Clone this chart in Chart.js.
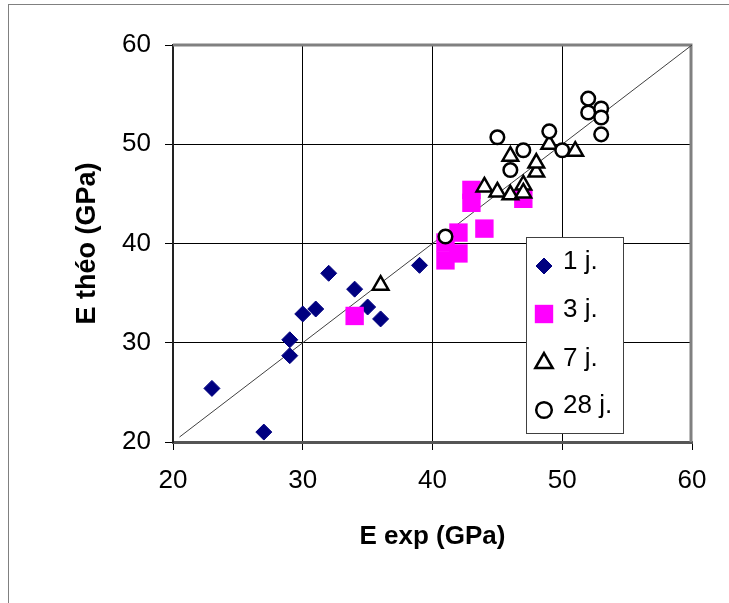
<!DOCTYPE html>
<html>
<head>
<meta charset="utf-8">
<script src="https://cdn.jsdelivr.net/npm/chart.js@4.4.0/dist/chart.umd.min.js"></script>
<style>
    html, body { margin: 0; padding: 0; background: #fff; }
    #wrap { width: 729px; height: 603px; }
</style>
</head>
<body>
<div id="wrap"><canvas id="modulusChart" width="729" height="603"></canvas></div>
<script>
/**
 * E exp vs E théo (GPa), by curing age
 */

// 1 day
const exp1j  = [23, 27, 29, 29, 30, 31, 32, 34, 35, 36, 39];
const theo1j = [25.4, 21.0, 28.7, 30.3, 32.9, 33.4, 37.0, 35.4, 33.6, 32.4, 37.8];

// 3 days
const exp3j  = [34, 41, 41, 42, 42, 43, 43, 44, 47];
const theo3j = [32.7, 38.3, 40.1, 39.0, 41.1, 44.1, 45.4, 41.5, 44.5];

// 7 days
const exp7j  = [36, 44, 45, 46, 47, 47, 48, 48, 46, 49, 51];
const theo7j = [35.8, 45.7, 45.2, 44.9, 45.9, 45.1, 47.2, 48.1, 48.8, 50.0, 49.3];

// 28 days
const exp28j  = [41, 45, 46, 47, 49, 50, 52, 52, 53, 53, 53];
const theo28j = [40.7, 50.7, 47.4, 49.4, 51.3, 49.4, 54.6, 53.2, 53.6, 52.7, 51.0];

// y = x reference line
const refLineX = [20.5, 60];
const refLineY = [20.5, 60];

const seriesLabels = ['1 j.', '3 j.', '7 j.', '28 j.'];
const axisTicks = [20, 30, 40, 50, 60];

const family = "'Liberation Sans', Arial, sans-serif";

function toPoints(xs, ys) {
    return xs.map((x, i) => ({ x: x, y: ys[i] }));
}

function fixedTicks(scale) {
    scale.ticks = axisTicks.map(v => ({ value: v }));
}

function gridColor(c) {
    // top / right edge is covered by the grey plot frame
    return c.tick && c.tick.value === 60 ? 'rgba(0,0,0,0)' : '#000';
}

// Outer chart frame + grey plot-area border (top and right)
const plotFrame = {
    id: 'plotFrame',
    beforeDraw(chart) {
        const c = chart.ctx;
        c.save();
        c.strokeStyle = '#808080';
        c.lineWidth = 1;
        c.strokeRect(8.5, 4.5, 800, 700);
        c.restore();
    },
    beforeDatasetsDraw(chart) {
        const { left, right, top, bottom } = chart.chartArea;
        const c = chart.ctx;
        c.save();
        c.strokeStyle = '#808080';
        c.lineWidth = 3;
        c.beginPath();
        c.moveTo(left, top);
        c.lineTo(right - 1, top);
        c.lineTo(right - 1, bottom);
        c.stroke();
        c.restore();
    }
};

// Boxed legend sitting inside the plot area
const boxLegend = {
    id: 'boxLegend',
    afterDraw(chart) {
        const c = chart.ctx;
        const rowY = [266, 314, 363, 410];
        c.save();
        c.fillStyle = '#fff';
        c.fillRect(526, 237, 98, 197);
        c.strokeStyle = '#404040';
        c.lineWidth = 1;
        c.strokeRect(526.5, 237.5, 97, 196);

        seriesLabels.forEach((label, i) => {
            const ds = chart.data.datasets[i];
            c.fillStyle = ds.backgroundColor;
            c.strokeStyle = ds.borderColor;
            c.lineWidth = ds.borderWidth;
            Chart.helpers.drawPoint(c, {
                pointStyle: ds.pointStyle,
                radius: ds.pointRadius + (i > 1 ? 1 : 0),
                borderWidth: ds.borderWidth,
                rotation: 0
            }, 544, rowY[i]);

            c.fillStyle = '#000';
            c.font = '26px ' + family;
            c.textAlign = 'left';
            c.textBaseline = 'middle';
            c.fillText(label, 563, rowY[i] - 4);
        });
        c.restore();
    }
};

const ctx = document.getElementById('modulusChart').getContext('2d');

new Chart(ctx, {
    type: 'scatter',
    data: {
        datasets: [
            {
                label: seriesLabels[0],
                data: toPoints(exp1j, theo1j),
                pointStyle: 'rectRot',
                pointRadius: 8,
                backgroundColor: '#000080',
                borderColor: '#000080',
                borderWidth: 1,
                order: 3
            },
            {
                label: seriesLabels[1],
                data: toPoints(exp3j, theo3j),
                pointStyle: 'rect',
                pointRadius: 13,
                backgroundColor: '#ff00ff',
                borderColor: '#ff00ff',
                borderWidth: 0,
                order: 2
            },
            {
                label: seriesLabels[2],
                data: toPoints(exp7j, theo7j),
                pointStyle: 'triangle',
                pointRadius: 9,
                backgroundColor: '#ffffff',
                borderColor: '#000000',
                borderWidth: 2.5,
                order: 1
            },
            {
                label: seriesLabels[3],
                data: toPoints(exp28j, theo28j),
                pointStyle: 'circle',
                pointRadius: 6.8,
                backgroundColor: '#ffffff',
                borderColor: '#000000',
                borderWidth: 2.5,
                order: 0
            },
            {
                label: 'y = x',
                data: toPoints(refLineX, refLineY),
                showLine: true,
                pointRadius: 0,
                borderColor: '#404040',
                borderWidth: 1,
                order: 4
            }
        ]
    },
    options: {
        responsive: false,
        animation: false,
        events: [],
        layout: { padding: { top: 45, right: 37, bottom: 0, left: 0 } },
        plugins: {
            legend: { display: false },
            tooltip: { enabled: false }
        },
        scales: {
            x: {
                type: 'linear',
                min: 20,
                max: 60,
                afterBuildTicks: fixedTicks,
                afterFit: s => { s.height = 161; },
                ticks: {
                    color: '#000',
                    font: { family: family, size: 26 },
                    padding: 15,
                    maxRotation: 0
                },
                grid: { color: gridColor, lineWidth: 1, tickLength: 8, tickColor: '#000' },
                border: { color: '#555', width: 3 },
                title: {
                    display: true,
                    text: 'E exp (GPa)',
                    color: '#000',
                    font: { family: family, size: 26, weight: 'bold' },
                    padding: { top: 0, bottom: 51 }
                }
            },
            y: {
                type: 'linear',
                min: 20,
                max: 60,
                afterBuildTicks: fixedTicks,
                afterFit: s => { s.width = 173; },
                ticks: {
                    color: '#000',
                    font: { family: family, size: 26 },
                    padding: 14
                },
                grid: { color: gridColor, lineWidth: 1, tickLength: 8, tickColor: '#000' },
                border: { color: '#222', width: 2 },
                title: {
                    display: true,
                    text: 'E théo (GPa)',
                    color: '#000',
                    font: { family: family, size: 27, weight: 'bold' },
                    padding: { top: 71, bottom: 0 }
                }
            }
        }
    },
    plugins: [plotFrame, boxLegend]
});
</script>
</body>
</html>
